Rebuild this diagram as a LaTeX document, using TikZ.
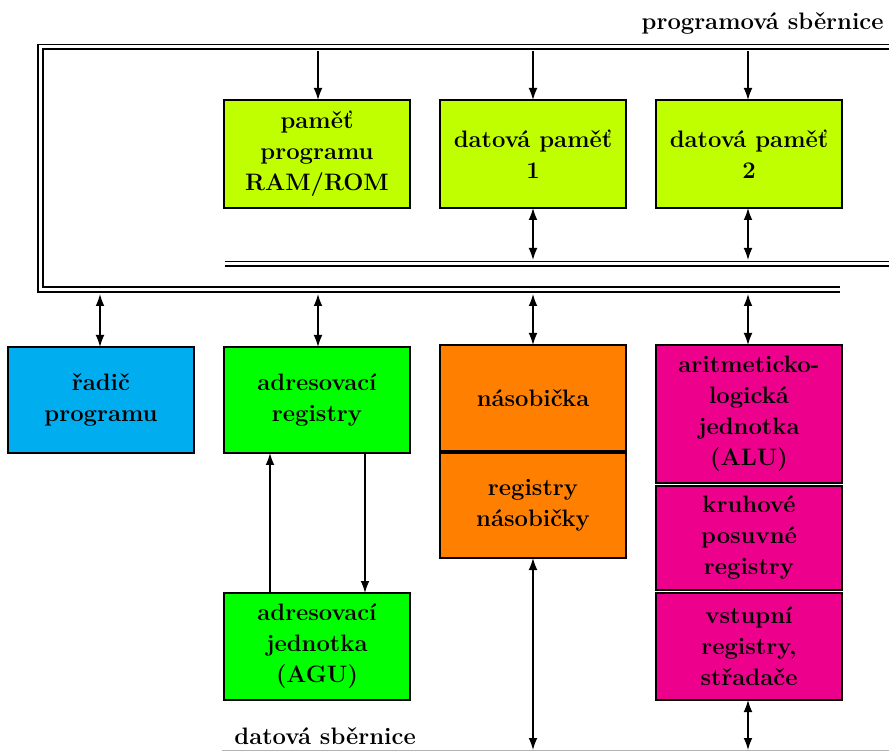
\documentclass[tikz,border=0pt]{standalone}
\usetikzlibrary{arrows.meta}
\definecolor{cLime}{HTML}{C0FF00}
\definecolor{cCyan}{HTML}{00AEEF}
\definecolor{cGreen}{HTML}{00FF00}
\definecolor{cOrange}{HTML}{FF8000}
\definecolor{cMagenta}{HTML}{EC008C}
\begin{document}
\begin{tikzpicture}[x=0.5pt,y=-0.5pt,
  blk/.style={draw=black,line width=0.75pt,inner sep=0pt,outer sep=0pt,
    minimum width=93pt,align=center,
    font=\fontsize{11.9}{15.5}\selectfont\bfseries},
  bus/.style={draw=black,line width=0.85pt,double=white,double distance=1.5pt},
  tip/.tip={Latex[length=6pt,width=4.4pt]},
  arr/.style={line width=0.7pt,-tip},
  biarr/.style={line width=0.7pt,tip-tip},
  lbl/.style={font=\fontsize{11.9}{15.5}\selectfont\bfseries,inner sep=0pt}]
\useasboundingbox (0,0) rectangle (889,753);

% program bus (left loop) and data bus segment
\draw[bus] (889,47) -- (40.5,47) -- (40.5,289.5) -- (840,289.5);
\draw[bus] (225,264) -- (889,264);
\node[lbl,anchor=base east] (pbus) at (884,30) {programová sběrnice};

% memories
\node[blk,fill=cLime,minimum height=54pt] (pp) at (317,154) {paměť\\programu\\RAM/ROM};
\node[blk,fill=cLime,minimum height=54pt] (dp1) at (533,154) {datová paměť\\1};
\node[blk,fill=cLime,minimum height=54pt] (dp2) at (749,154) {datová paměť\\2};

% execution units
\node[blk,fill=cCyan,minimum height=53pt] (rad) at (101,400) {řadič\\programu};
\node[blk,fill=cGreen,minimum height=53pt] (areg) at (317,400) {adresovací\\registry};
\node[blk,fill=cGreen,minimum height=53.5pt] (agu) at (317,646.5) {adresovací\\jednotka\\(AGU)};
\node[blk,fill=cOrange,minimum height=53pt] (nas) at (533,398) {násobička};
\node[blk,fill=cOrange,minimum height=52.5pt] (rnas) at (533,505.5) {registry\\násobičky};
\node[blk,fill=cMagenta,minimum height=69pt] (alu) at (749,414) {aritmeticko-\\logická\\jednotka\\(ALU)};
\node[blk,fill=cMagenta,minimum height=52pt] (kruh) at (749,538) {kruhové\\posuvné\\registry};
\node[blk,fill=cMagenta,minimum height=53.5pt] (vst) at (749,646.5) {vstupní\\registry,\\střadače};

% bus taps
\coordinate (t1) at (318,51);
\coordinate (t2) at (533,51);
\coordinate (t3) at (748,51);
\draw[arr] (t1) -- (t1 |- pp.north);
\draw[arr] (t2) -- (t2 |- dp1.north);
\draw[arr] (t3) -- (t3 |- dp2.north);

\coordinate (d1) at (533,260);
\coordinate (d2) at (748,260);
\draw[biarr] (d1 |- dp1.south) -- (d1);
\draw[biarr] (d2 |- dp2.south) -- (d2);

\coordinate (b0) at (100,294);
\coordinate (b1) at (318,294);
\coordinate (b2) at (533,294);
\coordinate (b3) at (748,294);
\draw[biarr] (b0) -- (b0 |- rad.north);
\draw[biarr] (b1) -- (b1 |- areg.north);
\draw[biarr] (b2) -- (b2 |- nas.north);
\draw[biarr] (b3) -- (b3 |- alu.north);

% address unit links
\coordinate (g1) at (270,0);
\coordinate (g2) at (365,0);
\draw[arr] (g1 |- agu.north) -- (g1 |- areg.south);
\draw[arr] (g2 |- areg.south) -- (g2 |- agu.north);

% data bus at the bottom
\coordinate (dbL) at (222,750);
\coordinate (dbR) at (889,750);
\draw[gray!60,line width=0.5pt] (dbL) -- (dbR);
\node[lbl,anchor=base west] (dbus) at (234,744) {datová sběrnice};
\coordinate (e1) at (533,750);
\coordinate (e2) at (748,750);
\draw[biarr] (e1 |- rnas.south) -- (e1);
\draw[biarr] (e2 |- vst.south) -- (e2);
\end{tikzpicture}
\end{document}
